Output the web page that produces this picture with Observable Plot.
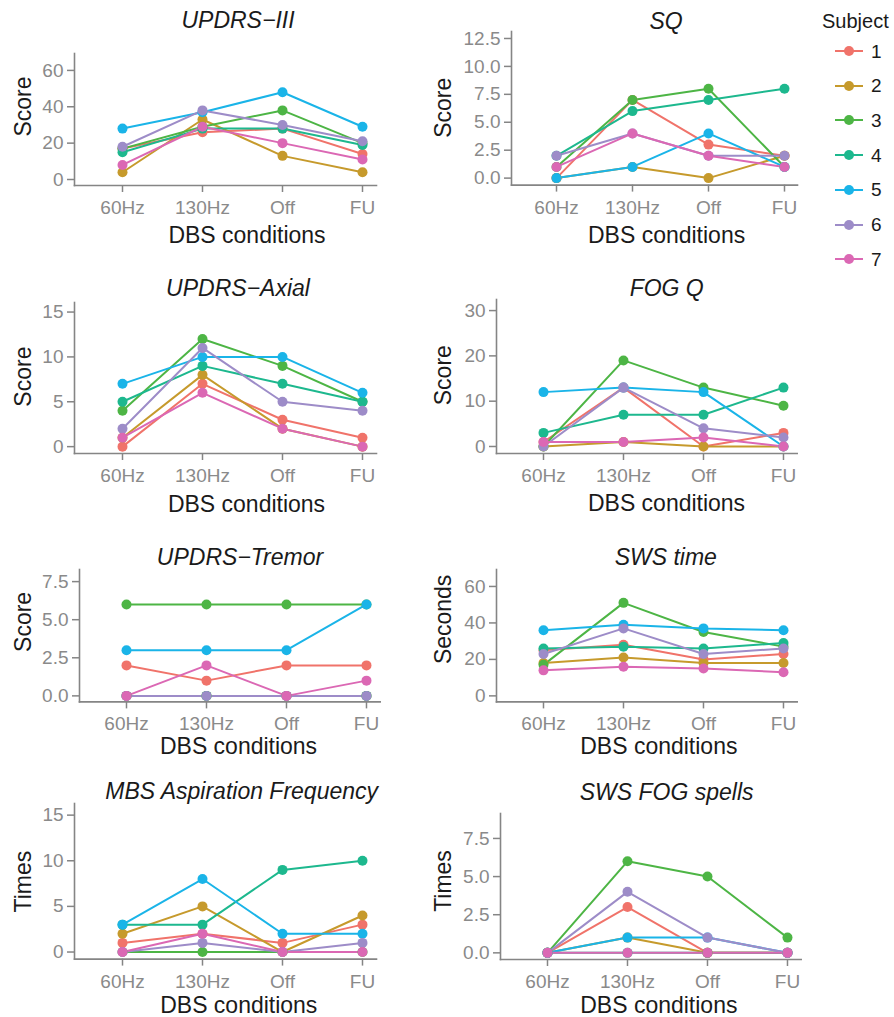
<!DOCTYPE html>
<html><head><meta charset="utf-8">
<script src="https://cdn.jsdelivr.net/npm/d3@7"></script>
<script src="https://cdn.jsdelivr.net/npm/@observablehq/plot@0.6"></script>
<style>
html,body{margin:0;padding:0;background:#fff;}
#fig{position:relative;width:894px;height:1017px;font-family:"Liberation Sans",Arial,Helvetica,sans-serif;overflow:hidden;background:#fff}
.ttl{position:absolute;transform:translate(-50%,-50%);font-style:italic;font-size:23px;line-height:1;white-space:nowrap;color:#1a1a1a}
.legtitle{position:absolute;font-size:20px;line-height:1;color:#1a1a1a;transform:translateY(-50%)}
.legitem{position:absolute;height:20px;transform:translateY(-50%);display:flex;align-items:center}
.legkey{position:relative;width:28px;height:20px}
.legkey .ln{position:absolute;left:0;right:0;top:9px;height:2px}
.legkey .dt{position:absolute;left:9px;top:5px;width:10px;height:10px;border-radius:50%}
.leglab{font-size:19px;margin-left:8px;color:#1a1a1a;line-height:1}
</style></head><body><div id="fig"></div><script>
// ---- categories ----
const conditions = ["60Hz", "130Hz", "Off", "FU"];
const subjects = ["1", "2", "3", "4", "5", "6", "7"];
const subjectColors = ["#F0736A", "#C69A2C", "#4DB545", "#1DB88E", "#1AB4E8", "#9D8CC8", "#DB68B4"];
const xLabel = "DBS conditions";
const legendTitle = "Subject";

// ---- values: one row per subject (1..7), columns = conditions ----
const updrsIII = [[17, 26, 28, 14], [4, 33, 13, 4], [17, 29, 38, 20], [15, 28, 28, 19], [28, 37, 48, 29], [18, 38, 30, 21], [8, 29, 20, 11]];
const sq = [[0, 7, 3, 2], [0, 1, 0, 2], [1, 7, 8, 1], [2, 6, 7, 8], [0, 1, 4, 1], [2, 4, 2, 2], [1, 4, 2, 1]];
const updrsAxial = [[0, 7, 3, 1], [1, 8, 2, 0], [4, 12, 9, 5], [5, 9, 7, 5], [7, 10, 10, 6], [2, 11, 5, 4], [1, 6, 2, 0]];
const fogQ = [[1, 13, 0, 3], [0, 1, 0, 0], [0, 19, 13, 9], [3, 7, 7, 13], [12, 13, 12, 0], [0, 13, 4, 2], [1, 1, 2, 0]];
const updrsTremor = [[2, 1, 2, 2], [0, 0, 0, 0], [6, 6, 6, 6], [0, 0, 0, 0], [3, 3, 3, 6], [0, 0, 0, 0], [0, 2, 0, 1]];
const swsTime = [[25, 28, 20, 23], [18, 21, 18, 18], [17, 51, 35, 27], [26, 27, 26, 29], [36, 39, 37, 36], [23, 37, 23, 26], [14, 16, 15, 13]];
const mbsAspiration = [[1, 2, 1, 3], [2, 5, 0, 4], [0, 0, 0, 0], [3, 3, 9, 10], [3, 8, 2, 2], [0, 1, 0, 1], [0, 2, 0, 0]];
const swsFogSpells = [[0, 3, 0, 0], [0, 1, 0, 0], [0, 6, 5, 1], [0, 0, 0, 0], [0, 1, 1, 0], [0, 4, 1, 0], [0, 0, 0, 0]];

// ---- panel descriptors ----
const panelTitles = ["UPDRS\u2212III", "SQ", "UPDRS\u2212Axial", "FOG Q", "UPDRS\u2212Tremor", "SWS time", "MBS Aspiration Frequency", "SWS FOG spells"];
const panelYLabels = ["Score", "Score", "Score", "Score", "Score", "Seconds", "Times", "Times"];
const panelValues = [updrsIII, sq, updrsAxial, fogQ, updrsTremor, swsTime, mbsAspiration, swsFogSpells];
const yLimits = [[0, 66], [0, 12.5], [0, 15.3], [0, 30.9], [0, 7.9], [0, 66], [0, 15.5], [0, 8.7]];
const yTicks = [[0, 20, 40, 60], [0, 2.5, 5, 7.5, 10, 12.5], [0, 5, 10, 15], [0, 10, 20, 30], [0, 2.5, 5, 7.5], [0, 20, 40, 60], [0, 5, 10, 15], [0, 2.5, 5, 7.5]];
const yTickDecimals = [0, 1, 0, 0, 1, 0, 0, 1];

// ---- layout (pixels): frame [left, top, right, bottom], title centre, y-label offset, x-label offset ----
const frames = [[74, 53, 376, 185], [510.7, 30.7, 796.7, 184.3], [74, 301.7, 376, 452.7], [496, 299.3, 796.7, 453.3],
                [79.3, 569.3, 380, 701.7], [496, 569.3, 796.7, 701.7], [74, 802.7, 376, 958.3], [500, 813.3, 800.7, 959.3]];
const titlePos = [[238, 20], [666, 21], [238, 288], [666.7, 288], [240, 556.7], [665.8, 556.7], [241.7, 791], [666.7, 792]];
const yLabelPos = [[51, -13], [67.4, -0.5], [50.7, -1.4], [52.7, -1.3], [56, -13.8], [52.7, -16.3], [50.7, 0.3], [56.7, -5.5]];
const xLabelPos = [[21.5, 50], [12.1, 50.7], [21, 50.7], [19.7, 50], [8.7, 45], [12, 45], [13.3, 46.7], [8, 45.7]];

const axisColor = "#858585";
const tickTextColor = "#8a8a8a";
const textColor = "#1a1a1a";
const FONT = '"Liberation Sans", Arial, Helvetica, sans-serif';
const M = {left: 84, top: 14, right: 22, bottom: 66};

const fig = document.getElementById("fig");

panelTitles.forEach((title, i) => {
  const [fl, ft, fr, fb] = frames[i];
  const [lo, hi] = yLimits[i];
  const pad = 0.05 * (hi - lo);
  const rows = [];
  subjects.forEach((s, si) => conditions.forEach((c, ci) => rows.push({subject: s, condition: c, value: panelValues[i][si][ci]})));
  const fmt = d3.format(yTickDecimals[i] ? ".1f" : "d");
  const chart = Plot.plot({
    width: (fr - fl) + M.left + M.right,
    height: (fb - ft) + M.top + M.bottom,
    marginLeft: M.left, marginRight: M.right, marginTop: M.top, marginBottom: M.bottom,
    style: {fontFamily: FONT, background: "transparent", overflow: "visible"},
    x: {type: "point", domain: conditions, padding: 0.375, align: 0.78},
    y: {domain: [lo - pad, hi + pad]},
    color: {domain: subjects, range: subjectColors},
    marks: [
      Plot.axisY({ticks: yTicks[i], tickFormat: fmt, tickSize: 7, tickPadding: 4, stroke: axisColor, strokeWidth: 1.5, fill: tickTextColor, fontSize: 19, label: null}),
      Plot.axisX({tickSize: 7, tickPadding: 8, stroke: axisColor, strokeWidth: 1.5, fill: tickTextColor, fontSize: 19, label: null}),
      Plot.frame({anchor: "left", stroke: axisColor, strokeWidth: 1.6}),
      Plot.frame({anchor: "bottom", stroke: axisColor, strokeWidth: 1.6}),
      Plot.line(rows, {x: "condition", y: "value", z: "subject", stroke: "subject", strokeWidth: 2}),
      Plot.dot(rows, {x: "condition", y: "value", fill: "subject", r: 5}),
      Plot.text([panelYLabels[i]], {text: d => d, frameAnchor: "left", textAnchor: "middle", lineAnchor: "middle", rotate: -90, dx: -yLabelPos[i][0], dy: yLabelPos[i][1], fontSize: 23, fill: textColor}),
      Plot.text([xLabel], {text: d => d, frameAnchor: "bottom", textAnchor: "middle", lineAnchor: "middle", dx: xLabelPos[i][0], dy: xLabelPos[i][1], fontSize: 23, fill: textColor})
    ]
  });
  chart.style.position = "absolute";
  chart.style.left = (fl - M.left) + "px";
  chart.style.top = (ft - M.top) + "px";
  fig.appendChild(chart);

  const t = document.createElement("div");
  t.className = "ttl";
  t.textContent = title;
  t.style.left = titlePos[i][0] + "px";
  t.style.top = titlePos[i][1] + "px";
  fig.appendChild(t);
});

// ---- legend ----
const lt = document.createElement("div");
lt.className = "legtitle";
lt.textContent = legendTitle;
lt.style.left = "822px";
lt.style.top = "21px";
fig.appendChild(lt);
subjects.forEach((s, si) => {
  const it = document.createElement("div");
  it.className = "legitem";
  it.style.left = "835px";
  it.style.top = (51 + si * 34.7) + "px";
  it.innerHTML = `<div class="legkey"><div class="ln" style="background:${subjectColors[si]}"></div><div class="dt" style="background:${subjectColors[si]}"></div></div><span class="leglab">${s}</span>`;
  fig.appendChild(it);
});
</script></body></html>
